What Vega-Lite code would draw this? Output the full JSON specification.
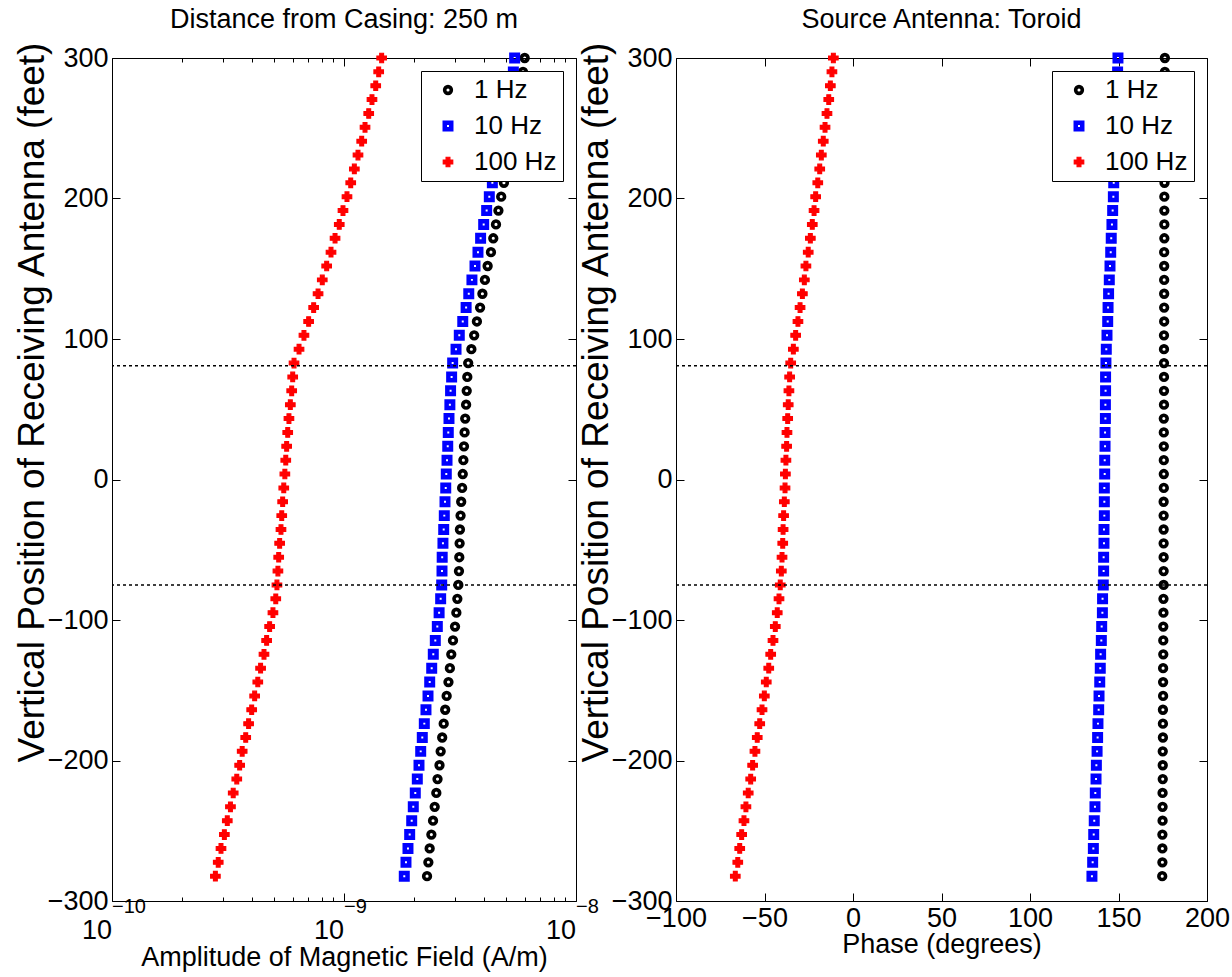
{
  "$schema": "https://vega.github.io/schema/vega-lite/v6.json",
  "padding": {"left": 12, "top": 5, "right": 5, "bottom": 5},
  "background": "white",
  "config": {
    "font": "Liberation Sans",
    "view": {"stroke": "black", "strokeWidth": 1},
    "axis": {
      "domain": false, "grid": false,
      "labelFont": "Liberation Sans", "labelFontSize": 27, "labelColor": "black",
      "tickColor": "black", "tickWidth": 1,
      "titleFont": "Liberation Sans", "titleFontSize": 27, "titleFontWeight": "normal", "titleColor": "black",
      "labelFlush": false, "labelOverlap": false
    },
    "legend": {
      "orient": "top-right", "offset": 13,
      "labelFont": "Liberation Sans", "labelFontSize": 26, "labelColor": "black",
      "strokeColor": "black", "fillColor": "white", "padding": 6, "rowPadding": 10,
      "symbolOffset": 8, "labelOffset": 13, "labelLimit": 300
    },
    "title": {"font": "Liberation Sans", "fontSize": 27, "fontWeight": "normal", "color": "black", "offset": 7}
  },
  "datasets": {
    "amp": [
      {"f":"1 Hz","y":300,"v":6.01e-9},{"f":"1 Hz","y":290.13,"v":5.91e-9},{"f":"1 Hz","y":280.26,"v":5.82e-9},{"f":"1 Hz","y":270.39,"v":5.71e-9},{"f":"1 Hz","y":260.52,"v":5.57e-9},{"f":"1 Hz","y":250.65,"v":5.43e-9},{"f":"1 Hz","y":240.78,"v":5.30e-9},{"f":"1 Hz","y":230.91,"v":5.17e-9},{"f":"1 Hz","y":221.04,"v":5.04e-9},{"f":"1 Hz","y":211.17,"v":4.89e-9},
      {"f":"1 Hz","y":201.3,"v":4.76e-9},{"f":"1 Hz","y":191.43,"v":4.63e-9},{"f":"1 Hz","y":181.56,"v":4.52e-9},{"f":"1 Hz","y":171.69,"v":4.40e-9},{"f":"1 Hz","y":161.82,"v":4.30e-9},{"f":"1 Hz","y":151.95,"v":4.16e-9},{"f":"1 Hz","y":142.08,"v":4.05e-9},{"f":"1 Hz","y":132.21,"v":3.95e-9},{"f":"1 Hz","y":122.34,"v":3.86e-9},{"f":"1 Hz","y":112.47,"v":3.74e-9},
      {"f":"1 Hz","y":102.6,"v":3.64e-9},{"f":"1 Hz","y":92.73,"v":3.54e-9},{"f":"1 Hz","y":82.86,"v":3.43e-9},{"f":"1 Hz","y":72.99,"v":3.40e-9},{"f":"1 Hz","y":63.12,"v":3.38e-9},{"f":"1 Hz","y":53.25,"v":3.36e-9},{"f":"1 Hz","y":43.38,"v":3.33e-9},{"f":"1 Hz","y":33.51,"v":3.31e-9},{"f":"1 Hz","y":23.64,"v":3.29e-9},{"f":"1 Hz","y":13.77,"v":3.27e-9},
      {"f":"1 Hz","y":3.9,"v":3.25e-9},{"f":"1 Hz","y":-5.97,"v":3.23e-9},{"f":"1 Hz","y":-15.84,"v":3.20e-9},{"f":"1 Hz","y":-25.71,"v":3.18e-9},{"f":"1 Hz","y":-35.58,"v":3.16e-9},{"f":"1 Hz","y":-45.45,"v":3.15e-9},{"f":"1 Hz","y":-55.32,"v":3.14e-9},{"f":"1 Hz","y":-65.19,"v":3.13e-9},{"f":"1 Hz","y":-75.06,"v":3.11e-9},{"f":"1 Hz","y":-84.93,"v":3.08e-9},
      {"f":"1 Hz","y":-94.8,"v":3.05e-9},{"f":"1 Hz","y":-104.67,"v":3.01e-9},{"f":"1 Hz","y":-114.54,"v":2.95e-9},{"f":"1 Hz","y":-124.41,"v":2.90e-9},{"f":"1 Hz","y":-134.28,"v":2.86e-9},{"f":"1 Hz","y":-144.15,"v":2.82e-9},{"f":"1 Hz","y":-154.02,"v":2.77e-9},{"f":"1 Hz","y":-163.89,"v":2.73e-9},{"f":"1 Hz","y":-173.76,"v":2.69e-9},{"f":"1 Hz","y":-183.63,"v":2.65e-9},
      {"f":"1 Hz","y":-193.5,"v":2.61e-9},{"f":"1 Hz","y":-203.37,"v":2.58e-9},{"f":"1 Hz","y":-213.24,"v":2.53e-9},{"f":"1 Hz","y":-223.11,"v":2.50e-9},{"f":"1 Hz","y":-232.98,"v":2.46e-9},{"f":"1 Hz","y":-242.85,"v":2.42e-9},{"f":"1 Hz","y":-252.72,"v":2.38e-9},{"f":"1 Hz","y":-262.59,"v":2.34e-9},{"f":"1 Hz","y":-272.46,"v":2.31e-9},{"f":"1 Hz","y":-282.33,"v":2.28e-9},

      {"f":"10 Hz","y":300,"v":5.44e-9},{"f":"10 Hz","y":290.13,"v":5.37e-9},{"f":"10 Hz","y":280.26,"v":5.26e-9},{"f":"10 Hz","y":270.39,"v":5.14e-9},{"f":"10 Hz","y":260.52,"v":5.02e-9},{"f":"10 Hz","y":250.65,"v":4.89e-9},{"f":"10 Hz","y":240.78,"v":4.75e-9},{"f":"10 Hz","y":230.91,"v":4.63e-9},{"f":"10 Hz","y":221.04,"v":4.49e-9},{"f":"10 Hz","y":211.17,"v":4.36e-9},
      {"f":"10 Hz","y":201.3,"v":4.23e-9},{"f":"10 Hz","y":191.43,"v":4.12e-9},{"f":"10 Hz","y":181.56,"v":4.00e-9},{"f":"10 Hz","y":171.69,"v":3.88e-9},{"f":"10 Hz","y":161.82,"v":3.78e-9},{"f":"10 Hz","y":151.95,"v":3.67e-9},{"f":"10 Hz","y":142.08,"v":3.56e-9},{"f":"10 Hz","y":132.21,"v":3.45e-9},{"f":"10 Hz","y":122.34,"v":3.36e-9},{"f":"10 Hz","y":112.47,"v":3.25e-9},
      {"f":"10 Hz","y":102.6,"v":3.14e-9},{"f":"10 Hz","y":92.73,"v":3.04e-9},{"f":"10 Hz","y":82.86,"v":2.94e-9},{"f":"10 Hz","y":72.99,"v":2.91e-9},{"f":"10 Hz","y":63.12,"v":2.88e-9},{"f":"10 Hz","y":53.25,"v":2.86e-9},{"f":"10 Hz","y":43.38,"v":2.835e-9},{"f":"10 Hz","y":33.51,"v":2.815e-9},{"f":"10 Hz","y":23.64,"v":2.80e-9},{"f":"10 Hz","y":13.77,"v":2.78e-9},
      {"f":"10 Hz","y":3.9,"v":2.76e-9},{"f":"10 Hz","y":-5.97,"v":2.745e-9},{"f":"10 Hz","y":-15.84,"v":2.725e-9},{"f":"10 Hz","y":-25.71,"v":2.706e-9},{"f":"10 Hz","y":-35.58,"v":2.69e-9},{"f":"10 Hz","y":-45.45,"v":2.67e-9},{"f":"10 Hz","y":-55.32,"v":2.65e-9},{"f":"10 Hz","y":-65.19,"v":2.645e-9},{"f":"10 Hz","y":-75.06,"v":2.637e-9},{"f":"10 Hz","y":-84.93,"v":2.61e-9},
      {"f":"10 Hz","y":-94.8,"v":2.57e-9},{"f":"10 Hz","y":-104.67,"v":2.525e-9},{"f":"10 Hz","y":-114.54,"v":2.475e-9},{"f":"10 Hz","y":-124.41,"v":2.426e-9},{"f":"10 Hz","y":-134.28,"v":2.388e-9},{"f":"10 Hz","y":-144.15,"v":2.341e-9},{"f":"10 Hz","y":-154.02,"v":2.302e-9},{"f":"10 Hz","y":-163.89,"v":2.256e-9},{"f":"10 Hz","y":-173.76,"v":2.219e-9},{"f":"10 Hz","y":-183.63,"v":2.175e-9},
      {"f":"10 Hz","y":-193.5,"v":2.141e-9},{"f":"10 Hz","y":-203.37,"v":2.105e-9},{"f":"10 Hz","y":-213.24,"v":2.07e-9},{"f":"10 Hz","y":-223.11,"v":2.029e-9},{"f":"10 Hz","y":-232.98,"v":1.989e-9},{"f":"10 Hz","y":-242.85,"v":1.958e-9},{"f":"10 Hz","y":-252.72,"v":1.919e-9},{"f":"10 Hz","y":-262.59,"v":1.887e-9},{"f":"10 Hz","y":-272.46,"v":1.85e-9},{"f":"10 Hz","y":-282.33,"v":1.819e-9},

      {"f":"100 Hz","y":300,"v":1.453e-9},{"f":"100 Hz","y":290.13,"v":1.411e-9},{"f":"100 Hz","y":280.26,"v":1.37e-9},{"f":"100 Hz","y":270.39,"v":1.32e-9},{"f":"100 Hz","y":260.52,"v":1.278e-9},{"f":"100 Hz","y":250.65,"v":1.232e-9},{"f":"100 Hz","y":240.78,"v":1.192e-9},{"f":"100 Hz","y":230.91,"v":1.149e-9},{"f":"100 Hz","y":221.04,"v":1.108e-9},{"f":"100 Hz","y":211.17,"v":1.069e-9},
      {"f":"100 Hz","y":201.3,"v":1.03e-9},{"f":"100 Hz","y":191.43,"v":9.9e-10},{"f":"100 Hz","y":181.56,"v":9.54e-10},{"f":"100 Hz","y":171.69,"v":9.15e-10},{"f":"100 Hz","y":161.82,"v":8.79e-10},{"f":"100 Hz","y":151.95,"v":8.42e-10},{"f":"100 Hz","y":142.08,"v":8.06e-10},{"f":"100 Hz","y":132.21,"v":7.73e-10},{"f":"100 Hz","y":122.34,"v":7.4e-10},{"f":"100 Hz","y":112.47,"v":7.04e-10},
      {"f":"100 Hz","y":102.6,"v":6.72e-10},{"f":"100 Hz","y":92.73,"v":6.4e-10},{"f":"100 Hz","y":82.86,"v":6.09e-10},{"f":"100 Hz","y":72.99,"v":6.01e-10},{"f":"100 Hz","y":63.12,"v":5.95e-10},{"f":"100 Hz","y":53.25,"v":5.87e-10},{"f":"100 Hz","y":43.38,"v":5.79e-10},{"f":"100 Hz","y":33.51,"v":5.72e-10},{"f":"100 Hz","y":23.64,"v":5.66e-10},{"f":"100 Hz","y":13.77,"v":5.61e-10},
      {"f":"100 Hz","y":3.9,"v":5.56e-10},{"f":"100 Hz","y":-5.97,"v":5.5e-10},{"f":"100 Hz","y":-15.84,"v":5.44e-10},{"f":"100 Hz","y":-25.71,"v":5.39e-10},{"f":"100 Hz","y":-35.58,"v":5.35e-10},{"f":"100 Hz","y":-45.45,"v":5.28e-10},{"f":"100 Hz","y":-55.32,"v":5.23e-10},{"f":"100 Hz","y":-65.19,"v":5.19e-10},{"f":"100 Hz","y":-75.06,"v":5.14e-10},{"f":"100 Hz","y":-84.93,"v":5.08e-10},
      {"f":"100 Hz","y":-94.8,"v":4.94e-10},{"f":"100 Hz","y":-104.67,"v":4.78e-10},{"f":"100 Hz","y":-114.54,"v":4.64e-10},{"f":"100 Hz","y":-124.41,"v":4.52e-10},{"f":"100 Hz","y":-134.28,"v":4.37e-10},{"f":"100 Hz","y":-144.15,"v":4.25e-10},{"f":"100 Hz","y":-154.02,"v":4.12e-10},{"f":"100 Hz","y":-163.89,"v":4.0e-10},{"f":"100 Hz","y":-173.76,"v":3.88e-10},{"f":"100 Hz","y":-183.63,"v":3.77e-10},
      {"f":"100 Hz","y":-193.5,"v":3.64e-10},{"f":"100 Hz","y":-203.37,"v":3.55e-10},{"f":"100 Hz","y":-213.24,"v":3.45e-10},{"f":"100 Hz","y":-223.11,"v":3.33e-10},{"f":"100 Hz","y":-232.98,"v":3.24e-10},{"f":"100 Hz","y":-242.85,"v":3.14e-10},{"f":"100 Hz","y":-252.72,"v":3.05e-10},{"f":"100 Hz","y":-262.59,"v":2.95e-10},{"f":"100 Hz","y":-272.46,"v":2.87e-10},{"f":"100 Hz","y":-282.33,"v":2.79e-10}
    ],
    "phase": [
      {"f":"1 Hz","y":300,"v":176.2},{"f":"1 Hz","y":290.13,"v":176.2},{"f":"1 Hz","y":280.26,"v":176.1},{"f":"1 Hz","y":270.39,"v":176.1},{"f":"1 Hz","y":260.52,"v":176.1},{"f":"1 Hz","y":250.65,"v":176.0},{"f":"1 Hz","y":240.78,"v":176.0},{"f":"1 Hz","y":230.91,"v":176.0},{"f":"1 Hz","y":221.04,"v":176.0},{"f":"1 Hz","y":211.17,"v":176.0},
      {"f":"1 Hz","y":201.3,"v":175.9},{"f":"1 Hz","y":191.43,"v":175.9},{"f":"1 Hz","y":181.56,"v":175.9},{"f":"1 Hz","y":171.69,"v":175.9},{"f":"1 Hz","y":161.82,"v":175.8},{"f":"1 Hz","y":151.95,"v":175.8},{"f":"1 Hz","y":142.08,"v":175.8},{"f":"1 Hz","y":132.21,"v":175.8},{"f":"1 Hz","y":122.34,"v":175.8},{"f":"1 Hz","y":112.47,"v":175.8},
      {"f":"1 Hz","y":102.6,"v":175.7},{"f":"1 Hz","y":92.73,"v":175.7},{"f":"1 Hz","y":82.86,"v":175.7},{"f":"1 Hz","y":72.99,"v":175.7},{"f":"1 Hz","y":63.12,"v":175.7},{"f":"1 Hz","y":53.25,"v":175.7},{"f":"1 Hz","y":43.38,"v":175.6},{"f":"1 Hz","y":33.51,"v":175.6},{"f":"1 Hz","y":23.64,"v":175.6},{"f":"1 Hz","y":13.77,"v":175.6},
      {"f":"1 Hz","y":3.9,"v":175.6},{"f":"1 Hz","y":-5.97,"v":175.6},{"f":"1 Hz","y":-15.84,"v":175.5},{"f":"1 Hz","y":-25.71,"v":175.5},{"f":"1 Hz","y":-35.58,"v":175.5},{"f":"1 Hz","y":-45.45,"v":175.5},{"f":"1 Hz","y":-55.32,"v":175.5},{"f":"1 Hz","y":-65.19,"v":175.5},{"f":"1 Hz","y":-75.06,"v":175.5},{"f":"1 Hz","y":-84.93,"v":175.4},
      {"f":"1 Hz","y":-94.8,"v":175.4},{"f":"1 Hz","y":-104.67,"v":175.3},{"f":"1 Hz","y":-114.54,"v":175.3},{"f":"1 Hz","y":-124.41,"v":175.3},{"f":"1 Hz","y":-134.28,"v":175.2},{"f":"1 Hz","y":-144.15,"v":175.2},{"f":"1 Hz","y":-154.02,"v":175.2},{"f":"1 Hz","y":-163.89,"v":175.1},{"f":"1 Hz","y":-173.76,"v":175.1},{"f":"1 Hz","y":-183.63,"v":175.1},
      {"f":"1 Hz","y":-193.5,"v":175.0},{"f":"1 Hz","y":-203.37,"v":175.0},{"f":"1 Hz","y":-213.24,"v":175.0},{"f":"1 Hz","y":-223.11,"v":174.9},{"f":"1 Hz","y":-232.98,"v":174.9},{"f":"1 Hz","y":-242.85,"v":174.9},{"f":"1 Hz","y":-252.72,"v":174.8},{"f":"1 Hz","y":-262.59,"v":174.8},{"f":"1 Hz","y":-272.46,"v":174.8},{"f":"1 Hz","y":-282.33,"v":174.7},

      {"f":"10 Hz","y":300,"v":149.7},{"f":"10 Hz","y":290.13,"v":149.5},{"f":"10 Hz","y":280.26,"v":149.2},{"f":"10 Hz","y":270.39,"v":149.0},{"f":"10 Hz","y":260.52,"v":148.7},{"f":"10 Hz","y":250.65,"v":148.4},{"f":"10 Hz","y":240.78,"v":148.1},{"f":"10 Hz","y":230.91,"v":147.8},{"f":"10 Hz","y":221.04,"v":147.6},{"f":"10 Hz","y":211.17,"v":147.3},
      {"f":"10 Hz","y":201.3,"v":147.1},{"f":"10 Hz","y":191.43,"v":146.7},{"f":"10 Hz","y":181.56,"v":146.3},{"f":"10 Hz","y":171.69,"v":145.9},{"f":"10 Hz","y":161.82,"v":145.6},{"f":"10 Hz","y":151.95,"v":145.2},{"f":"10 Hz","y":142.08,"v":144.8},{"f":"10 Hz","y":132.21,"v":144.4},{"f":"10 Hz","y":122.34,"v":144.1},{"f":"10 Hz","y":112.47,"v":143.9},
      {"f":"10 Hz","y":102.6,"v":143.5},{"f":"10 Hz","y":92.73,"v":143.1},{"f":"10 Hz","y":82.86,"v":142.9},{"f":"10 Hz","y":72.99,"v":142.7},{"f":"10 Hz","y":63.12,"v":142.7},{"f":"10 Hz","y":53.25,"v":142.6},{"f":"10 Hz","y":43.38,"v":142.6},{"f":"10 Hz","y":33.51,"v":142.4},{"f":"10 Hz","y":23.64,"v":142.4},{"f":"10 Hz","y":13.77,"v":142.2},
      {"f":"10 Hz","y":3.9,"v":142.2},{"f":"10 Hz","y":-5.97,"v":142.0},{"f":"10 Hz","y":-15.84,"v":142.0},{"f":"10 Hz","y":-25.71,"v":142.0},{"f":"10 Hz","y":-35.58,"v":141.8},{"f":"10 Hz","y":-45.45,"v":141.8},{"f":"10 Hz","y":-55.32,"v":141.6},{"f":"10 Hz","y":-65.19,"v":141.6},{"f":"10 Hz","y":-75.06,"v":141.4},{"f":"10 Hz","y":-84.93,"v":141.0},
      {"f":"10 Hz","y":-94.8,"v":140.9},{"f":"10 Hz","y":-104.67,"v":140.5},{"f":"10 Hz","y":-114.54,"v":140.3},{"f":"10 Hz","y":-124.41,"v":139.9},{"f":"10 Hz","y":-134.28,"v":139.7},{"f":"10 Hz","y":-144.15,"v":139.4},{"f":"10 Hz","y":-154.02,"v":139.0},{"f":"10 Hz","y":-163.89,"v":138.8},{"f":"10 Hz","y":-173.76,"v":138.4},{"f":"10 Hz","y":-183.63,"v":138.2},
      {"f":"10 Hz","y":-193.5,"v":137.9},{"f":"10 Hz","y":-203.37,"v":137.5},{"f":"10 Hz","y":-213.24,"v":137.3},{"f":"10 Hz","y":-223.11,"v":136.9},{"f":"10 Hz","y":-232.98,"v":136.7},{"f":"10 Hz","y":-242.85,"v":136.3},{"f":"10 Hz","y":-252.72,"v":136.0},{"f":"10 Hz","y":-262.59,"v":135.8},{"f":"10 Hz","y":-272.46,"v":135.4},{"f":"10 Hz","y":-282.33,"v":135.0},

      {"f":"100 Hz","y":300,"v":-11.1},{"f":"100 Hz","y":290.13,"v":-11.9},{"f":"100 Hz","y":280.26,"v":-12.8},{"f":"100 Hz","y":270.39,"v":-13.7},{"f":"100 Hz","y":260.52,"v":-14.7},{"f":"100 Hz","y":250.65,"v":-15.8},{"f":"100 Hz","y":240.78,"v":-16.8},{"f":"100 Hz","y":230.91,"v":-17.9},{"f":"100 Hz","y":221.04,"v":-18.8},{"f":"100 Hz","y":211.17,"v":-19.9},
      {"f":"100 Hz","y":201.3,"v":-21.1},{"f":"100 Hz","y":191.43,"v":-22.0},{"f":"100 Hz","y":181.56,"v":-23.0},{"f":"100 Hz","y":171.69,"v":-24.1},{"f":"100 Hz","y":161.82,"v":-25.3},{"f":"100 Hz","y":151.95,"v":-26.6},{"f":"100 Hz","y":142.08,"v":-27.5},{"f":"100 Hz","y":132.21,"v":-28.6},{"f":"100 Hz","y":122.34,"v":-29.9},{"f":"100 Hz","y":112.47,"v":-31.1},
      {"f":"100 Hz","y":102.6,"v":-32.4},{"f":"100 Hz","y":92.73,"v":-33.7},{"f":"100 Hz","y":82.86,"v":-35.2},{"f":"100 Hz","y":72.99,"v":-35.8},{"f":"100 Hz","y":63.12,"v":-36.2},{"f":"100 Hz","y":53.25,"v":-36.6},{"f":"100 Hz","y":43.38,"v":-36.9},{"f":"100 Hz","y":33.51,"v":-37.3},{"f":"100 Hz","y":23.64,"v":-37.5},{"f":"100 Hz","y":13.77,"v":-37.9},
      {"f":"100 Hz","y":3.9,"v":-38.2},{"f":"100 Hz","y":-5.97,"v":-38.4},{"f":"100 Hz","y":-15.84,"v":-38.8},{"f":"100 Hz","y":-25.71,"v":-39.2},{"f":"100 Hz","y":-35.58,"v":-39.5},{"f":"100 Hz","y":-45.45,"v":-39.7},{"f":"100 Hz","y":-55.32,"v":-40.1},{"f":"100 Hz","y":-65.19,"v":-40.5},{"f":"100 Hz","y":-75.06,"v":-41.1},{"f":"100 Hz","y":-84.93,"v":-41.8},
      {"f":"100 Hz","y":-94.8,"v":-42.8},{"f":"100 Hz","y":-104.67,"v":-43.9},{"f":"100 Hz","y":-114.54,"v":-45.2},{"f":"100 Hz","y":-124.41,"v":-46.5},{"f":"100 Hz","y":-134.28,"v":-47.6},{"f":"100 Hz","y":-144.15,"v":-49.0},{"f":"100 Hz","y":-154.02,"v":-50.1},{"f":"100 Hz","y":-163.89,"v":-51.4},{"f":"100 Hz","y":-173.76,"v":-52.7},{"f":"100 Hz","y":-183.63,"v":-54.1},
      {"f":"100 Hz","y":-193.5,"v":-55.4},{"f":"100 Hz","y":-203.37,"v":-56.7},{"f":"100 Hz","y":-213.24,"v":-57.8},{"f":"100 Hz","y":-223.11,"v":-59.2},{"f":"100 Hz","y":-232.98,"v":-60.5},{"f":"100 Hz","y":-242.85,"v":-61.6},{"f":"100 Hz","y":-252.72,"v":-62.9},{"f":"100 Hz","y":-262.59,"v":-64.0},{"f":"100 Hz","y":-272.46,"v":-65.1},{"f":"100 Hz","y":-282.33,"v":-66.5}
    ],
    "bands": [{"y": 81}, {"y": -75}],
    "decades": [{"v": 1e-10, "b": "10", "e": "−10"}, {"v": 1e-9, "b": "10", "e": "−9"}, {"v": 1e-8, "b": "10", "e": "−8"}]
  },
  "bounds": "flush",
  "spacing": 100,
  "resolve": {"legend": {"shape": "independent", "stroke": "independent", "fill": "independent", "size": "independent", "strokeWidth": "independent"}},
  "hconcat": [
    {
      "width": 464, "height": 843,
      "title": {"text": "Distance from Casing: 250 m"},
      "data": {"name": "amp"},
      "resolve": {"axis": {"x": "independent", "y": "independent"}},
      "layer": [
        {
          "mark": {"type": "point", "opacity": 1},
          "encoding": {
            "x": {"field": "v", "type": "quantitative", "scale": {"type": "log", "domain": [1e-10, 1e-8], "nice": false},
                  "axis": {"orient": "bottom", "values": [1e-10, 1e-9, 1e-8], "labels": false, "tickSize": -8, "title": "Amplitude of Magnetic Field (A/m)", "titlePadding": 43}},
            "y": {"field": "y", "type": "quantitative", "scale": {"domain": [-300, 300], "nice": false, "zero": false},
                  "axis": {"orient": "left", "values": [-300, -200, -100, 0, 100, 200, 300], "tickSize": -8, "labelPadding": 12, "title": "Vertical Position of Receiving Antenna (feet)", "titleFontSize": 37, "titleX": -80, "titleY": 344, "titleBaseline": "middle"}},
            "shape": {"field": "f", "type": "nominal", "scale": {"domain": ["1 Hz", "10 Hz", "100 Hz"], "range": ["circle", "square", "cross"]}, "legend": {"title": null}},
            "stroke": {"field": "f", "type": "nominal", "scale": {"domain": ["1 Hz", "10 Hz", "100 Hz"], "range": ["#000000", "#0000ff", "#ff0000"]}},
            "fill": {"field": "f", "type": "nominal", "scale": {"domain": ["1 Hz", "10 Hz", "100 Hz"], "range": ["transparent", "transparent", "#ff0000"]}},
            "size": {"field": "f", "type": "nominal", "scale": {"type": "ordinal", "domain": ["1 Hz", "10 Hz", "100 Hz"], "range": [45, 42, 90]}},
            "strokeWidth": {"field": "f", "type": "nominal", "scale": {"type": "ordinal", "domain": ["1 Hz", "10 Hz", "100 Hz"], "range": [3.6, 4.5, 1.2]}}
          }
        },
        {
          "mark": {"type": "point", "opacity": 0},
          "encoding": {
            "x": {"field": "v", "type": "quantitative", "axis": {"orient": "bottom", "values": [2e-10, 3e-10, 4e-10, 5e-10, 6e-10, 7e-10, 8e-10, 9e-10, 2e-9, 3e-9, 4e-9, 5e-9, 6e-9, 7e-9, 8e-9, 9e-9], "labels": false, "tickSize": -4, "title": null}},
            "y": {"field": "y", "type": "quantitative", "axis": {"orient": "right", "values": [-300, -200, -100, 0, 100, 200, 300], "labels": false, "tickSize": -8, "title": null}}
          }
        },
        {
          "mark": {"type": "point", "opacity": 0},
          "encoding": {
            "x": {"field": "v", "type": "quantitative", "axis": {"orient": "top", "values": [1e-10, 1e-9, 1e-8], "labels": false, "tickSize": -8, "title": null}},
            "y": {"field": "y", "type": "quantitative", "axis": null}
          }
        },
        {
          "mark": {"type": "point", "opacity": 0},
          "encoding": {
            "x": {"field": "v", "type": "quantitative", "axis": {"orient": "top", "values": [2e-10, 3e-10, 4e-10, 5e-10, 6e-10, 7e-10, 8e-10, 9e-10, 2e-9, 3e-9, 4e-9, 5e-9, 6e-9, 7e-9, 8e-9, 9e-9], "labels": false, "tickSize": -4, "title": null}},
            "y": {"field": "y", "type": "quantitative", "axis": null}
          }
        },
        {
          "data": {"name": "bands"},
          "mark": {"type": "rule", "color": "black", "strokeDash": [3, 3], "strokeWidth": 1.5},
          "encoding": {"y": {"field": "y", "type": "quantitative", "axis": null}}
        },
        {
          "data": {"name": "decades"},
          "mark": {"type": "text", "align": "right", "baseline": "alphabetic", "dx": 0, "dy": 38, "fontSize": 27, "font": "Liberation Sans", "color": "black"},
          "encoding": {
            "x": {"field": "v", "type": "quantitative", "axis": null},
            "y": {"datum": -300, "axis": null},
            "text": {"field": "b"}
          }
        },
        {
          "data": {"name": "decades"},
          "mark": {"type": "text", "align": "left", "baseline": "alphabetic", "dx": 0, "dy": 12, "fontSize": 20, "font": "Liberation Sans", "color": "black"},
          "encoding": {
            "x": {"field": "v", "type": "quantitative", "axis": null},
            "y": {"datum": -300, "axis": null},
            "text": {"field": "e"}
          }
        }
      ]
    },
    {
      "width": 531, "height": 843,
      "title": {"text": "Source Antenna: Toroid"},
      "data": {"name": "phase"},
      "resolve": {"axis": {"x": "independent", "y": "independent"}},
      "layer": [
        {
          "mark": {"type": "point", "opacity": 1},
          "encoding": {
            "x": {"field": "v", "type": "quantitative", "scale": {"domain": [-100, 200], "nice": false, "zero": false},
                  "axis": {"orient": "bottom", "values": [-100, -50, 0, 50, 100, 150, 200], "tickSize": -8, "labelPadding": 12, "title": "Phase (degrees)", "titlePadding": 0}},
            "y": {"field": "y", "type": "quantitative", "scale": {"domain": [-300, 300], "nice": false, "zero": false},
                  "axis": {"orient": "left", "values": [-300, -200, -100, 0, 100, 200, 300], "tickSize": -8, "labelPadding": 12, "title": "Vertical Position of Receiving Antenna (feet)", "titleFontSize": 37, "titleX": -80, "titleY": 344, "titleBaseline": "middle"}},
            "shape": {"field": "f", "type": "nominal", "scale": {"domain": ["1 Hz", "10 Hz", "100 Hz"], "range": ["circle", "square", "cross"]}, "legend": {"title": null}},
            "stroke": {"field": "f", "type": "nominal", "scale": {"domain": ["1 Hz", "10 Hz", "100 Hz"], "range": ["#000000", "#0000ff", "#ff0000"]}},
            "fill": {"field": "f", "type": "nominal", "scale": {"domain": ["1 Hz", "10 Hz", "100 Hz"], "range": ["transparent", "transparent", "#ff0000"]}},
            "size": {"field": "f", "type": "nominal", "scale": {"type": "ordinal", "domain": ["1 Hz", "10 Hz", "100 Hz"], "range": [45, 42, 90]}},
            "strokeWidth": {"field": "f", "type": "nominal", "scale": {"type": "ordinal", "domain": ["1 Hz", "10 Hz", "100 Hz"], "range": [3.6, 4.5, 1.2]}}
          }
        },
        {
          "mark": {"type": "point", "opacity": 0},
          "encoding": {
            "x": {"field": "v", "type": "quantitative", "axis": {"orient": "top", "values": [-100, -50, 0, 50, 100, 150, 200], "labels": false, "tickSize": -8, "title": null}},
            "y": {"field": "y", "type": "quantitative", "axis": {"orient": "right", "values": [-300, -200, -100, 0, 100, 200, 300], "labels": false, "tickSize": -8, "title": null}}
          }
        },
        {
          "data": {"name": "bands"},
          "mark": {"type": "rule", "color": "black", "strokeDash": [3, 3], "strokeWidth": 1.5},
          "encoding": {"y": {"field": "y", "type": "quantitative", "axis": null}}
        }
      ]
    }
  ]
}
